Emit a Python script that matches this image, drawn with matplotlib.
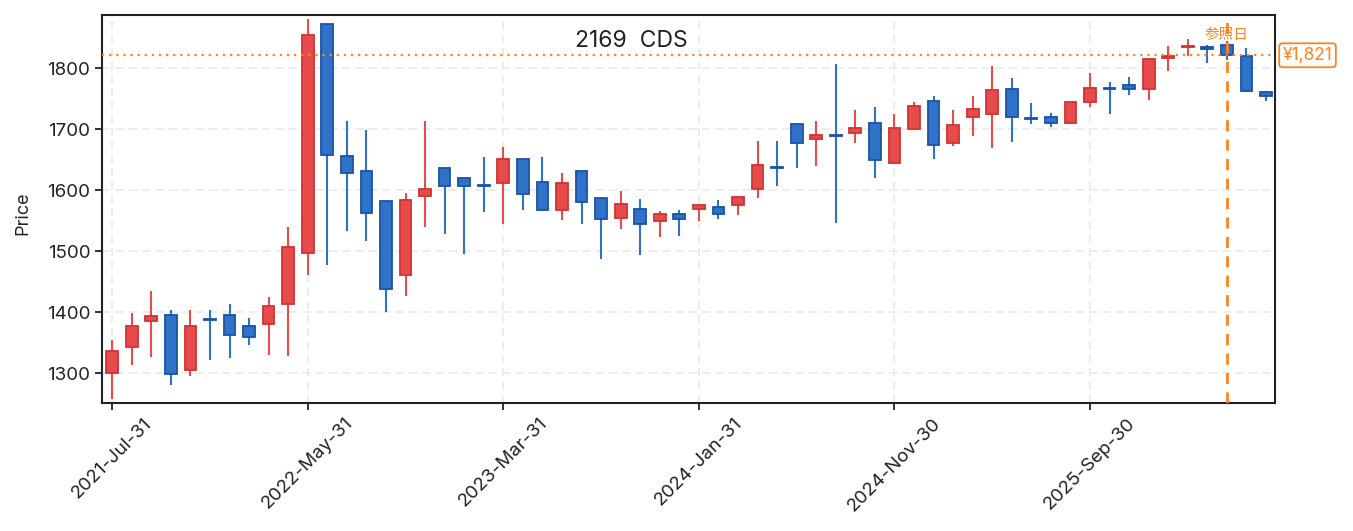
import matplotlib
matplotlib.use("Agg")
import matplotlib.pyplot as plt
from matplotlib.patches import Rectangle
import pandas as pd

plt.rcParams['font.family'] = ['Inter', 'Noto Sans CJK JP', 'DejaVu Sans']

dates = pd.date_range("2021-07-31", periods=60, freq="ME")
opens = [1300, 1342, 1386, 1395, 1305, 1389, 1395, 1377, 1380, 1414,
         1497, 1872, 1656, 1631, 1582, 1460, 1590, 1636, 1620, 1608,
         1612, 1651, 1613, 1568, 1631, 1587, 1555, 1569, 1549, 1561,
         1569, 1572, 1575, 1601, 1638, 1708, 1683, 1691, 1693, 1710,
         1645, 1700, 1746, 1678, 1719, 1725, 1766, 1718, 1720, 1710,
         1745, 1767, 1772, 1766, 1817, 1835, 1834, 1838, 1820, 1761]
highs = [1354, 1399, 1435, 1403, 1403, 1403, 1413, 1391, 1424, 1540,
         1880, 1873, 1714, 1699, 1582, 1595, 1714, 1636, 1620, 1655,
         1670, 1651, 1654, 1628, 1631, 1587, 1598, 1586, 1565, 1567,
         1576, 1583, 1589, 1681, 1680, 1708, 1713, 1807, 1732, 1737,
         1725, 1745, 1754, 1731, 1755, 1803, 1783, 1742, 1727, 1744,
         1792, 1777, 1785, 1815, 1837, 1848, 1838, 1845, 1833, 1763]
lows = [1258, 1314, 1326, 1280, 1296, 1322, 1325, 1346, 1329, 1328,
        1461, 1477, 1533, 1516, 1400, 1426, 1539, 1528, 1496, 1564,
        1544, 1567, 1568, 1551, 1544, 1487, 1536, 1493, 1523, 1525,
        1549, 1552, 1559, 1587, 1607, 1636, 1639, 1546, 1677, 1620,
        1645, 1699, 1651, 1673, 1689, 1669, 1679, 1708, 1704, 1710,
        1736, 1725, 1756, 1748, 1795, 1820, 1809, 1814, 1763, 1746]
closes = [1337, 1377, 1393, 1298, 1377, 1387, 1362, 1360, 1410, 1507,
          1855, 1658, 1628, 1563, 1438, 1584, 1601, 1606, 1606, 1606,
          1651, 1593, 1568, 1611, 1581, 1553, 1578, 1544, 1561, 1553,
          1575, 1561, 1589, 1641, 1636, 1678, 1690, 1689, 1702, 1650,
          1702, 1738, 1674, 1707, 1733, 1764, 1719, 1716, 1710, 1744,
          1767, 1766, 1765, 1815, 1819, 1837, 1832, 1821, 1763, 1754]

title = "2169  CDS"
ref_index = 57
ref_price = 1821
ref_label = "参照日"
yticks = [1300, 1400, 1500, 1600, 1700, 1800]

UP_FILL, UP_EDGE = "#E84B4B", "#D03333"
DN_FILL, DN_EDGE = "#2E73C7", "#1B52A5"
ORANGE = "#FF8419"

fig = plt.figure(figsize=(13.53, 5.31), dpi=100)
ax = fig.add_axes([102/1353, 1 - 403/531, (1275-102)/1353, (403-15)/531])

w = 0.6
for i, (o, h, l, c) in enumerate(zip(opens, highs, lows, closes)):
    up = c >= o
    fill = UP_FILL if up else DN_FILL
    edge = UP_EDGE if up else DN_EDGE
    ax.vlines(i, l, h, color=fill, lw=1.5, zorder=2)
    bottom = min(o, c)
    height = max(abs(c - o), 0.8)
    ax.add_patch(Rectangle((i - w/2, bottom), w, height, facecolor=fill,
                           edgecolor=edge, lw=1.3, zorder=3))

ax.axhline(ref_price, color=ORANGE, ls=(0, (1, 2.2)), lw=1.6, zorder=4)
ax.axvline(ref_index, color=ORANGE, ls=(0, (4, 3)), lw=2, zorder=4)
ax.text(ref_index, 1855, ref_label, color=ORANGE, fontsize=10.5,
        family=['Noto Sans CJK JP', 'DejaVu Sans'],
        ha="center", va="center", zorder=5)
ax.annotate(f"¥{ref_price:,}", xy=(1.0, ref_price), xycoords=("axes fraction", "data"),
            xytext=(5.5, 0), textcoords="offset points", ha="left", va="center",
            color=ORANGE, fontsize=12.5,
            bbox=dict(boxstyle="round,pad=0.2", fc="white", ec=ORANGE, lw=1.3),
            annotation_clip=False)

ax.text(0.403, 0.932, title, transform=ax.transAxes, fontsize=16.5,
        ha="left", va="center", color="#222222")

ax.set_xlim(-0.52, 59.46)
ax.set_ylim(1251, 1887)
ax.set_yticks(yticks)
ax.set_yticklabels([str(t) for t in yticks])
xt = list(range(0, 60, 10))
ax.set_xticks(xt)
ax.set_xticklabels([dates[i].strftime("%Y-%b-%d") for i in xt], rotation=45, ha="center")
ax.tick_params(labelsize=13.5, length=5, width=1.3, color="#222222", labelcolor="#222222")
ax.set_ylabel("Price", fontsize=13, color="#222222")
ax.yaxis.set_label_coords(-0.06, 0.49)
ax.grid(True, ls=(0, (5, 3)), color="#EAEAEA", lw=1.2, zorder=0)
ax.set_axisbelow(True)
for s in ax.spines.values():
    s.set_color("#222222")
    s.set_linewidth(1.5)

fig.savefig("out.png", dpi=100)
